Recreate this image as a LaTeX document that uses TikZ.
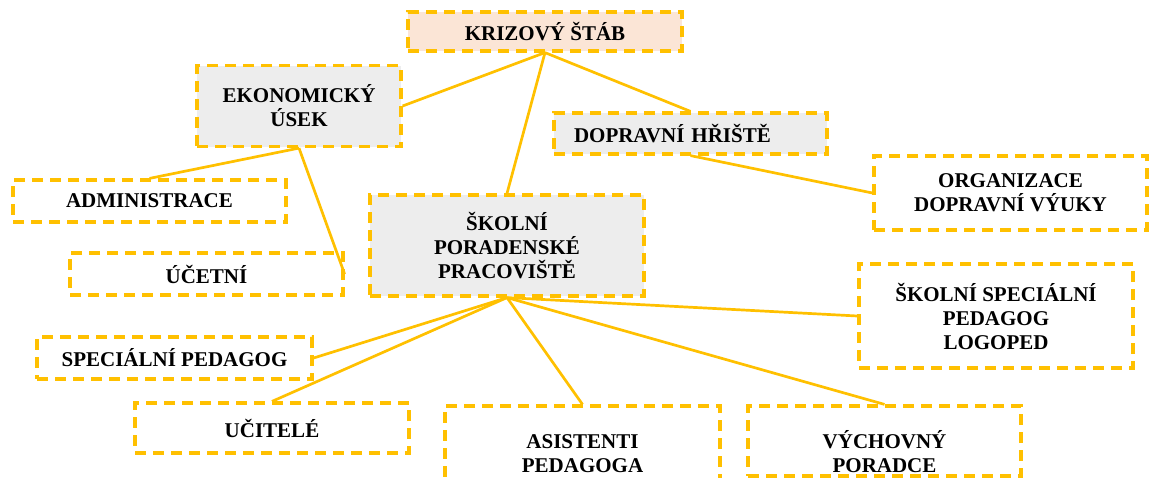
\documentclass[tikz,border=0pt]{standalone}
\usepackage{fontspec}
\setmainfont{Liberation Serif}
\usepackage{xcolor}
\definecolor{zluta}{HTML}{FFC000}
\definecolor{seda}{HTML}{EDEDED}
\definecolor{lososova}{HTML}{FBE5D6}
\tikzset{
	box/.style={rectangle, draw=zluta, line width=3.2pt, dash pattern=on 11pt off 7pt,
		minimum width=273pt, inner sep=2pt, align=center,
		font=\fontsize{21}{24}\selectfont\bfseries},
	spoj/.style={draw=zluta, line width=2.7pt}
}

\begin{document}
\begin{tikzpicture}[x=1pt, y=-1pt]

		\useasboundingbox (0,0) rectangle (1149,477);

		% Vedeni
		\node [box, fill=lososova, minimum width=274pt, minimum height=39pt] (stab) at (545, 31.5) {KRIZOVÝ ŠTÁB};

		% Useky
		\node [box, fill=seda, minimum width=204pt, minimum height=81pt] (ekon) at (299, 106) {EKONOMICKÝ\\ÚSEK};
		\node [box, fill=seda, minimum height=41pt, text width=233pt, inner xsep=20pt, align=left] (hriste) at (690.5, 133.5) {DOPRAVNÍ HŘIŠTĚ};
		\node [box, fill=seda, minimum width=274pt, minimum height=101pt] (spp) at (507, 245.5) {ŠKOLNÍ\\PORADENSKÉ\\PRACOVIŠTĚ};

		% Ekonomicky usek
		\node [box, minimum height=42pt] (admin) at (149.5, 201) {ADMINISTRACE};
		\node [box, minimum height=42pt] (ucetni) at (206.5, 274) {ÚČETNÍ};

		% Dopravni hriste
		\node [box, minimum height=74pt] (vyuka) at (1010.5, 193) {ORGANIZACE\\DOPRAVNÍ VÝUKY};

		% Skolni poradenske pracoviste
		\node [box, minimum width=274pt, minimum height=104pt] (logoped) at (996, 316) {ŠKOLNÍ SPECIÁLNÍ\\PEDAGOG\\LOGOPED};
		\node [box, minimum width=275pt, minimum height=42pt] (specped) at (174.5, 358) {SPECIÁLNÍ PEDAGOG};
		\node [box, minimum width=274pt, minimum height=50pt] (ucitele) at (272, 428) {UČITELÉ};
		\node [box, minimum width=275pt, minimum height=74pt, text height=64pt, text depth=6pt] (asist) at (582.5, 443) {ASISTENTI\\PEDAGOGA};
		\node [box, minimum height=70pt, text height=64pt, text depth=2pt] (vychov) at (884.5, 441) {VÝCHOVNÝ\\PORADCE};

		% Spoje
		\draw [spoj] (stab.south) -- (ekon.east);
		\draw [spoj] (stab.south) -- (spp.north);
		\draw [spoj] (stab.south) -- (hriste.north);
		\draw [spoj] (ekon.south) -- (admin.north);
		\draw [spoj] (ekon.south) -- (ucetni.east);
		\draw [spoj] (hriste.south) -- (vyuka.west);
		\draw [spoj] (spp.south) -- (specped.east);
		\draw [spoj] (spp.south) -- (ucitele.north);
		\draw [spoj] (spp.south) -- (asist.north);
		\draw [spoj] (spp.south) -- (vychov.north);
		\draw [spoj] (spp.south) -- (logoped.west);

	\end{tikzpicture}
\end{document}
